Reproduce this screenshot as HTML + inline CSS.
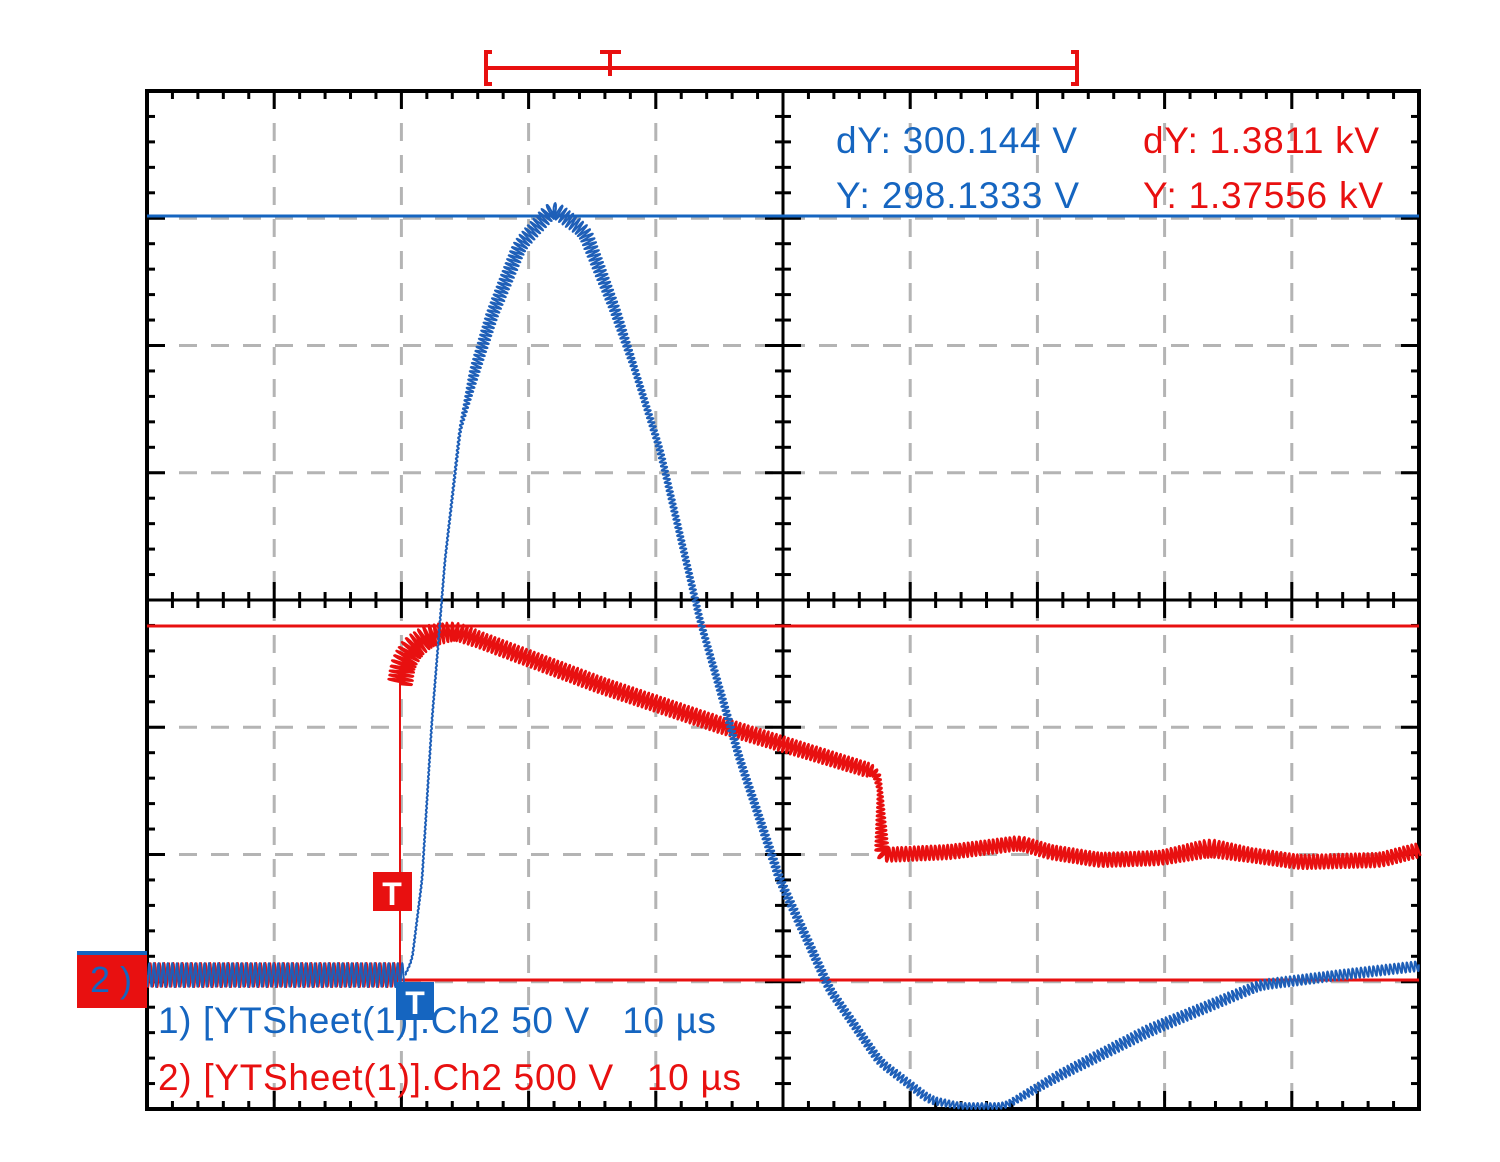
<!DOCTYPE html>
<html><head><meta charset="utf-8"><style>
html,body{margin:0;padding:0;background:#fff;}
svg{display:block;}
text{font-family:"Liberation Sans",sans-serif;white-space:pre;}
</style></head><body>
<svg id="s" width="1500" height="1162" viewBox="0 0 1500 1162" xmlns="http://www.w3.org/2000/svg">
<g id="grid" stroke="#b4b4b4" stroke-width="3" stroke-dasharray="18,14"></g>
<g id="ticks" stroke="#000" stroke-width="3"></g>
<rect x="147" y="91" width="1272" height="1018" fill="none" stroke="#000" stroke-width="4"/>
<line x1="783" y1="91" x2="783" y2="1109" stroke="#000" stroke-width="3"/>
<line x1="147" y1="600" x2="1419" y2="600" stroke="#000" stroke-width="3"/>
<line x1="147" y1="216" x2="1419" y2="216" stroke="#1565c0" stroke-width="3"/>
<line x1="147" y1="626" x2="1419" y2="626" stroke="#e81010" stroke-width="3"/>
<line x1="400" y1="980" x2="1419" y2="980" stroke="#e81010" stroke-width="3"/>
<line x1="400" y1="980" x2="400" y2="680" stroke="#e81010" stroke-width="2"/>
<g id="traces"></g>
<g stroke="#e81010" stroke-width="4" fill="none">
<line x1="486" y1="68" x2="1077" y2="68"/>
<path d="M492 52 H486 V84 H492"/>
<path d="M1071 52 H1077 V84 H1071"/>
<line x1="600" y1="52" x2="621" y2="52"/>
<line x1="610" y1="52" x2="610" y2="76"/>
</g>
<g font-size="37">
<text x="836" y="153" fill="#1565c0" textLength="241">dY: 300.144 V</text>
<text x="836" y="208" fill="#1565c0" textLength="243">Y: 298.1333 V</text>
<text x="1143" y="153" fill="#e81010" textLength="236">dY: 1.3811 kV</text>
<text x="1143" y="208" fill="#e81010" textLength="240">Y: 1.37556 kV</text>
<text x="158" y="1033" fill="#1565c0" xml:space="preserve" textLength="558">1) [YTSheet(1)].Ch2 50 V   10 µs</text>
<text x="158" y="1090" fill="#e81010" xml:space="preserve" textLength="583">2) [YTSheet(1)].Ch2 500 V   10 µs</text>
</g>
<rect x="77" y="951" width="70" height="6" fill="#1565c0"/>
<rect x="77" y="955" width="70" height="53" fill="#e81010"/>
<text x="90" y="992" font-size="36" fill="#1565c0">2 )</text>
<rect x="373" y="872" width="39" height="39" fill="#e81010"/>
<text x="392" y="905" font-size="32" font-weight="bold" fill="#fff" text-anchor="middle">T</text>
<rect x="396" y="982" width="38" height="38" fill="#1565c0"/>
<text x="415" y="1014" font-size="32" font-weight="bold" fill="#fff" text-anchor="middle">T</text>
</svg>
<script>
var NS="http://www.w3.org/2000/svg";
function el(p,n,a){var e=document.createElementNS(NS,n);for(var k in a)e.setAttribute(k,a[k]);p.appendChild(e);return e;}
var grid=document.getElementById('grid'),ticks=document.getElementById('ticks');
var X0=147,X1=1419,Y0=91,Y1=1109,dx=(X1-X0)/10,dy=(Y1-Y0)/8;
for(var i=1;i<10;i++){if(i==5)continue;var x=X0+i*dx;el(grid,'line',{x1:x,y1:Y0,x2:x,y2:Y1});}
for(var j=1;j<8;j++){if(j==4)continue;var y=Y0+j*dy;el(grid,'line',{x1:X0,y1:y,x2:X1,y2:y});}
var cy=600,cx=783;
for(var i=0;i<=50;i++){var x=X0+i*dx/5,maj=(i%5==0),L=maj?18:8;
 el(ticks,'line',{x1:x,y1:Y0,x2:x,y2:Y0+L});el(ticks,'line',{x1:x,y1:Y1,x2:x,y2:Y1-L});
 el(ticks,'line',{x1:x,y1:cy-L,x2:x,y2:cy+L});}
for(var j=0;j<=40;j++){var y=Y0+j*dy/5,maj=(j%5==0),L=maj?18:8;
 el(ticks,'line',{x1:X0,y1:y,x2:X0+L,y2:y});el(ticks,'line',{x1:X1,y1:y,x2:X1-L,y2:y});
 el(ticks,'line',{x1:cx-L,y1:y,x2:cx+L,y2:y});}
function resample(s,step){var o=[s[0]],acc=0;for(var i=1;i<s.length;i++){var a=s[i-1],b=s[i],L=Math.hypot(b[0]-a[0],b[1]-a[1]);
 if(L===0)continue;var d=step-acc;while(d<=L){var t=d/L;o.push([a[0]+(b[0]-a[0])*t,a[1]+(b[1]-a[1])*t,a[2]+(b[2]-a[2])*t]);d+=step;}acc=L-(d-step);}
 o.push(s[s.length-1]);return o;}
function smooth(s,r){var n=s.length,o=[];function g(i){if(i<0){var a=s[0],b=s[Math.min(n-1,-i)];return [2*a[0]-b[0],2*a[1]-b[1]];}
 if(i>=n){var a=s[n-1],b=s[Math.max(0,2*(n-1)-i)];return [2*a[0]-b[0],2*a[1]-b[1]];}return s[i];}
 for(var i=0;i<n;i++){var x=0,y=0,c=0;for(var k=-r;k<=r;k++){var q=g(i+k);x+=q[0];y+=q[1];c++;}o.push([x/c,y/c,s[i][2]]);}return o;}
function zig(pts,P,col,w,ph,sm){var s=resample(pts,1);s=smooth(s,sm===undefined?12:sm);s=resample(s,0.4);var d='',S=0;
 for(var i=0;i<s.length;i++){var p=s[i],q=s[Math.min(i+3,s.length-1)],r=s[Math.max(i-3,0)];
 var tx=q[0]-r[0],ty=q[1]-r[1],L=Math.hypot(tx,ty)||1;if(i>0)S+=Math.hypot(p[0]-s[i-1][0],p[1]-s[i-1][1]);
 var o=p[2]*Math.sin(2*Math.PI*S/P+(ph||0));d+=(i?'L':'M')+(p[0]-ty/L*o).toFixed(1)+' '+(p[1]+tx/L*o).toFixed(1);}
 el(document.getElementById('traces'),'path',{d:d,fill:'none',stroke:col,'stroke-width':w,'stroke-linejoin':'round'});}
zig([[147,975,12],[400,975,12]],4.6,'#e81010',2,0,0);
zig([[147,975,12],[405,975,12]],4.6,'#1e5fb8',2,1.6,0);
zig([[400,684,12],[403,664,12],[412,648,12],[428,636,11],[455,631,9],[480,640,8],[600,685,8],[720,725,8],[868,770,7],[876,772,4],[880,790,2],[882,855,7],[950,852,7],[1020,843,7],[1050,852,7],[1100,860,7],[1160,858,7],[1210,848,9],[1250,855,7],[1300,862,7],[1380,860,7],[1419,850,7]],4.2,'#e81010',2.5,0,6);
zig([[405,975,0.5],[412,960,0.5],[422,880,0.5],[432,720,0.5],[445,560,0.5],[460,430,1],[475,370,5],[492,315,6],[520,245,7],[553,208,8],[585,232,7],[615,310,5],[635,370,3],[660,450,3],[700,620,3],[740,760,3.5],[780,880,4],[830,990,4],[880,1062,4],[930,1100,4],[960,1106,3],[1005,1106,3],[1060,1075,5],[1150,1030,6],[1260,985,5],[1340,975,5],[1419,966,5]],4.2,'#1e5fb8',2,0,8);
</script>
</body></html>
